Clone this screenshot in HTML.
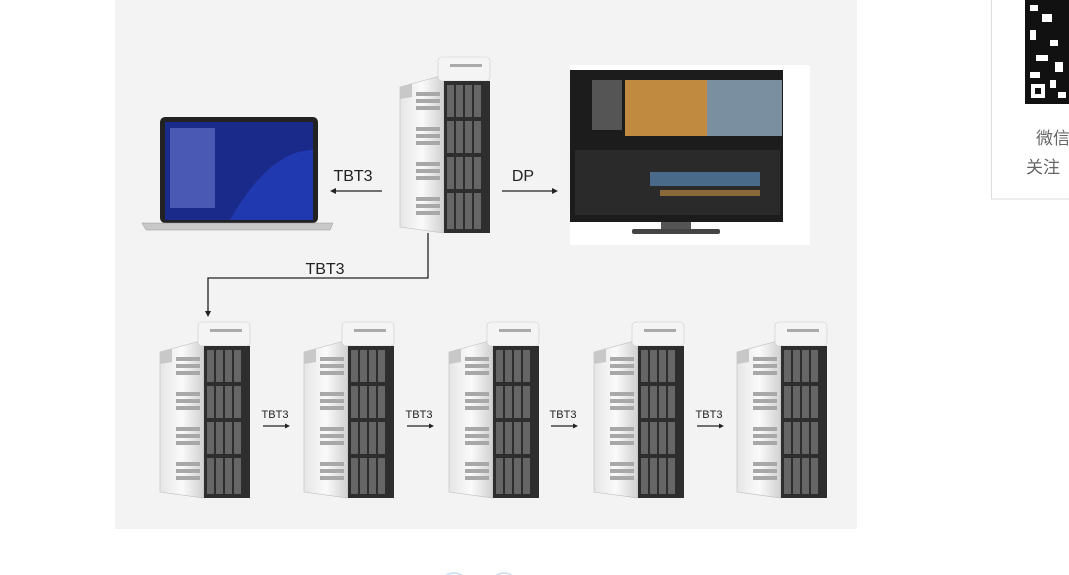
<!DOCTYPE html>
<html><head><meta charset="utf-8"><style>
body{margin:0;width:1069px;height:575px;background:#fff;overflow:hidden;position:relative;font-family:"Liberation Sans","Noto Sans CJK SC",sans-serif}
.p{position:absolute;white-space:nowrap}
</style></head><body>
<div class="p" style="left:115px;top:0;width:742px;height:529px;background:#f3f3f3"></div>
<svg class="p" style="left:0;top:0" width="1069" height="575">
<defs>
<linearGradient id="sil" x1="0" x2="1"><stop offset="0" stop-color="#e6e6e6"/><stop offset="0.5" stop-color="#fafafa"/><stop offset="1" stop-color="#d0d0d0"/></linearGradient>
<g id="tw">
<path d="M2 30 L46 18 L46 176 L2 170 Z" fill="url(#sil)" stroke="#bbb" stroke-width="0.6"/>
<path d="M2 30 L14 27 L14 40 L2 42Z" fill="#c8c8c8"/>
<rect x="40" y="0" width="52" height="24" rx="4" fill="#f4f4f4" stroke="#ccc" stroke-width="0.6"/>
<rect x="52" y="7" width="32" height="3" fill="#aaa"/>
<g fill="#a8a8a8">
<rect x="18" y="35" width="24" height="4"/><rect x="18" y="42" width="24" height="4"/><rect x="18" y="49" width="24" height="4"/>
<rect x="18" y="70" width="24" height="4"/><rect x="18" y="77" width="24" height="4"/><rect x="18" y="84" width="24" height="4"/>
<rect x="18" y="105" width="24" height="4"/><rect x="18" y="112" width="24" height="4"/><rect x="18" y="119" width="24" height="4"/>
<rect x="18" y="140" width="24" height="4"/><rect x="18" y="147" width="24" height="4"/><rect x="18" y="154" width="24" height="4"/>
</g>
<rect x="46" y="24" width="46" height="152" fill="#2e2e2e"/>
<g fill="#666">
<rect x="49" y="28" width="7" height="32"/><rect x="58" y="28" width="7" height="32"/><rect x="67" y="28" width="7" height="32"/><rect x="76" y="28" width="7" height="32"/>
<rect x="49" y="64" width="7" height="32"/><rect x="58" y="64" width="7" height="32"/><rect x="67" y="64" width="7" height="32"/><rect x="76" y="64" width="7" height="32"/>
<rect x="49" y="100" width="7" height="32"/><rect x="58" y="100" width="7" height="32"/><rect x="67" y="100" width="7" height="32"/><rect x="76" y="100" width="7" height="32"/>
<rect x="49" y="136" width="7" height="36"/><rect x="58" y="136" width="7" height="36"/><rect x="67" y="136" width="7" height="36"/><rect x="76" y="136" width="7" height="36"/>
</g>
</g>
</defs>
<use href="#tw" x="398" y="57"/>
<use href="#tw" x="158" y="322"/>
<use href="#tw" x="302" y="322"/>
<use href="#tw" x="447" y="322"/>
<use href="#tw" x="592" y="322"/>
<use href="#tw" x="735" y="322"/>
<rect x="160" y="117" width="158" height="106" rx="5" fill="#222"/>
<rect x="165" y="122" width="148" height="98" fill="#1a2a8a"/>
<path d="M230 220 Q270 150 313 150 L313 220Z" fill="#2540c0" opacity="0.7"/>
<rect x="170" y="128" width="45" height="80" fill="#6a7ad0" opacity="0.6"/>
<path d="M142 223 L333 223 L330 230 L146 230Z" fill="#c8c8c8" stroke="#999" stroke-width="0.5"/>
<rect x="570" y="65" width="240" height="180" fill="#fff"/>
<rect x="570" y="70" width="213" height="152" fill="#1c1c1c"/>
<rect x="625" y="80" width="82" height="56" fill="#c08a40"/>
<rect x="707" y="80" width="75" height="56" fill="#7a8fa0"/>
<rect x="592" y="80" width="30" height="50" fill="#555"/>
<rect x="575" y="150" width="205" height="65" fill="#2a2a2a"/>
<rect x="650" y="172" width="110" height="14" fill="#4a6a8a"/>
<rect x="660" y="190" width="100" height="6" fill="#8a6a3a"/>
<rect x="661" y="222" width="30" height="7" fill="#555"/>
<rect x="632" y="229" width="88" height="5" rx="2" fill="#444"/>
<g stroke="#222" stroke-width="1.3" fill="none">
<line x1="382" y1="191" x2="334" y2="191"/>
<line x1="502" y1="191" x2="553" y2="191"/>
<polyline points="428,233 428,278 208,278 208,312"/>
<line x1="263" y1="426" x2="286" y2="426"/><line x1="407" y1="426" x2="430" y2="426"/>
<line x1="551" y1="426" x2="574" y2="426"/><line x1="697" y1="426" x2="720" y2="426"/>
</g>
<g fill="#222">
<path d="M330 191 l6 -3 v6z"/><path d="M558 191 l-6 -3 v6z"/><path d="M208 317 l-3 -6 h6z"/>
<path d="M290 426 l-5 -2.5 v5z"/><path d="M434 426 l-5 -2.5 v5z"/><path d="M578 426 l-5 -2.5 v5z"/><path d="M724 426 l-5 -2.5 v5z"/>
</g>
<g font-family="Liberation Sans,sans-serif" fill="#222">
<text x="353" y="181" font-size="16" text-anchor="middle">TBT3</text>
<text x="523" y="181" font-size="16" text-anchor="middle">DP</text>
<text x="325" y="274" font-size="16" text-anchor="middle">TBT3</text>
<text x="275" y="418" font-size="11" text-anchor="middle">TBT3</text>
<text x="419" y="418" font-size="11" text-anchor="middle">TBT3</text>
<text x="563" y="418" font-size="11" text-anchor="middle">TBT3</text>
<text x="709" y="418" font-size="11" text-anchor="middle">TBT3</text>
</g>
<circle cx="454" cy="587" r="14" fill="none" stroke="#cde" stroke-width="1.5"/>
<circle cx="504" cy="587" r="14" fill="none" stroke="#cde" stroke-width="1.5"/>
<rect x="991.5" y="-2" width="90" height="201" fill="#fff" stroke="#ddd"/>
<rect x="1025" y="0" width="44" height="104" fill="#111"/>
<g fill="#fff">
<rect x="1030" y="5" width="8" height="6"/><rect x="1042" y="14" width="10" height="8"/><rect x="1030" y="30" width="6" height="10"/>
<rect x="1050" y="40" width="8" height="6"/><rect x="1036" y="55" width="12" height="6"/><rect x="1055" y="62" width="8" height="10"/>
<rect x="1030" y="72" width="10" height="6"/><rect x="1031" y="84" width="14" height="14"/><rect x="1050" y="80" width="6" height="8"/><rect x="1058" y="92" width="8" height="6"/>
</g>
<rect x="1035" y="88" width="6" height="6" fill="#111"/>
</svg>
<div class="p" style="left:1036px;top:124px;font-size:17px;color:#666">微信</div>
<div class="p" style="left:1026px;top:153px;font-size:17px;color:#666">关注</div>
</body></html>
